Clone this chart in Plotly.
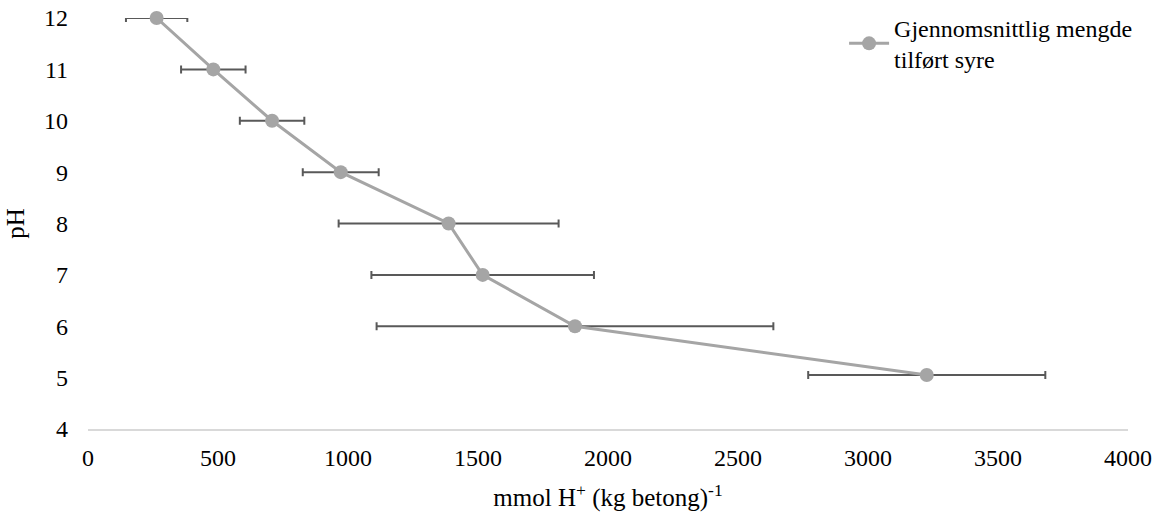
import plotly.graph_objects as go

# Average amount of added acid (mmol H+ per kg concrete) needed to reach each pH
ph = [12, 11, 10, 9, 8, 7, 6, 5.05]
acid = [264, 482, 708, 972, 1387, 1518, 1873, 3226]
acid_err = [118, 124, 124, 146, 423, 428, 763, 456]

x_ticks = [0, 500, 1000, 1500, 2000, 2500, 3000, 3500, 4000]
y_ticks = [4, 5, 6, 7, 8, 9, 10, 11, 12]

serif = "Liberation Serif"
tick_txt = dict(family=serif, size=24, color="#000000")
title_txt = dict(family=serif, size=25, color="#000000")

fig = go.Figure()
fig.add_trace(go.Scatter(
    x=acid,
    y=ph,
    mode="lines+markers",
    name="Gjennomsnittlig mengde<br>tilført syre",
    line=dict(color="#A5A5A5", width=3),
    marker=dict(color="#A5A5A5", size=14),
    error_x=dict(type="data", array=acid_err, symmetric=True,
                 color="#595959", thickness=2, width=4),
    cliponaxis=False,
))

fig.update_layout(
    width=1160,
    height=515,
    paper_bgcolor="white",
    plot_bgcolor="white",
    margin=dict(l=88, r=32, t=18, b=86, autoexpand=False),
    font=tick_txt,
    showlegend=True,
    legend=dict(
        x=0.727, y=1.03, xanchor="left", yanchor="top",
        font=tick_txt,
        bgcolor="rgba(0,0,0,0)",
        itemwidth=40,
    ),
    xaxis=dict(
        range=[0, 4000],
        tickvals=x_ticks,
        tickfont=tick_txt,
        showgrid=False,
        zeroline=False,
        showline=True,
        linecolor="#D9D9D9",
        linewidth=1.5,
        ticks="",
        ticklabelstandoff=6,
        automargin=False,
        title=dict(text="mmol H<sup>+</sup> (kg betong)<sup>-1</sup>",
                   font=title_txt, standoff=19),
    ),
    yaxis=dict(
        range=[4, 12],
        tickvals=y_ticks,
        tickfont=tick_txt,
        showgrid=False,
        zeroline=False,
        showline=False,
        ticks="",
        ticklabelstandoff=19,
        automargin=False,
        title=dict(text="pH", font=title_txt, standoff=12),
    ),
)

fig.write_html("out.html")
